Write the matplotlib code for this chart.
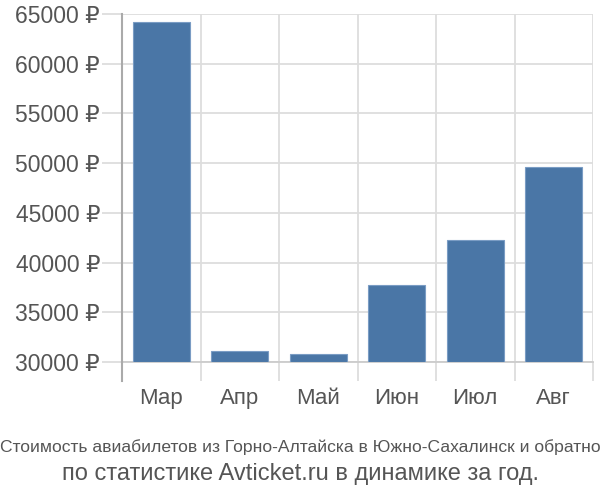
import matplotlib
matplotlib.use("Agg")
import matplotlib.pyplot as plt
from matplotlib.ticker import FixedLocator
import numpy as np

months = ["Мар", "Апр", "Май", "Июн", "Июл", "Авг"]
prices = [64200, 31150, 30850, 37780, 42250, 49600]
yticks = [30000, 35000, 40000, 45000, 50000, 55000, 60000, 65000]
ytick_labels = [f"{v} ₽" for v in yticks]
title1 = "Стоимость авиабилетов из Горно-Алтайска в Южно-Сахалинск и обратно"
title2 = "по статистике Avticket.ru в динамике за год."

plt.rcParams['font.family'] = ['Liberation Sans', 'DejaVu Sans']

PX = 72 / 100  # points per pixel

fig = plt.figure(figsize=(6, 5), dpi=100)
ax = fig.add_axes([122/600, 1-362/500, (593-122)/600, (362-14)/500])

x = np.arange(len(months))
base = 30000
ax.bar(x, np.array(prices) - base, bottom=base, width=0.72, color="#4a76a6",
       edgecolor="#7a9cc4", linewidth=0.8, zorder=3)

ax.set_xlim(-0.5, len(months) - 0.5)
ax.set_ylim(30000, 65000)

ax.set_yticks(yticks)
ax.set_yticklabels(ytick_labels)
ax.set_xticks(x)
ax.set_xticklabels(months)
ax.xaxis.set_minor_locator(FixedLocator(np.arange(-0.5, len(months), 1.0)))

ax.grid(axis='y', which='major', color='#dddddd', linewidth=1.3, zorder=0)
ax.grid(axis='x', which='minor', color='#dddddd', linewidth=1.3, zorder=0)

ax.tick_params(axis='y', which='major', length=20*PX, width=1.3, color='#dddddd',
               labelsize=16.5, labelcolor='#555555', pad=2*PX)
ax.tick_params(axis='x', which='major', length=0, labelsize=16,
               labelcolor='#555555', pad=26*PX)
ax.tick_params(axis='x', which='minor', length=19*PX, width=1.3, color='#dddddd')

for s in ['top', 'right']:
    ax.spines[s].set_visible(False)
ax.spines['bottom'].set_color('#cccccc')
ax.spines['bottom'].set_linewidth(1.3)
ax.spines['left'].set_color('#aaaaaa')
ax.spines['left'].set_linewidth(1.5)
ax.spines['left'].set_bounds(30000, 65000)
ax.spines['left'].set_zorder(4)

# extend left spine below axis
ax.plot([-0.5, -0.5], [30000 - 19/348*35000, 30000], color='#aaaaaa',
        linewidth=1.5, clip_on=False, zorder=4)

fig.text(0.5, 1-447/500, title1, ha='center', va='center', fontsize=12.6,
         color='#555555', family=['Liberation Sans Narrow', 'Liberation Sans', 'DejaVu Sans'])
fig.text(0.5, 1-474/500, title2, ha='center', va='center', fontsize=17,
         color='#555555')

fig.savefig("out.png", dpi=100)
